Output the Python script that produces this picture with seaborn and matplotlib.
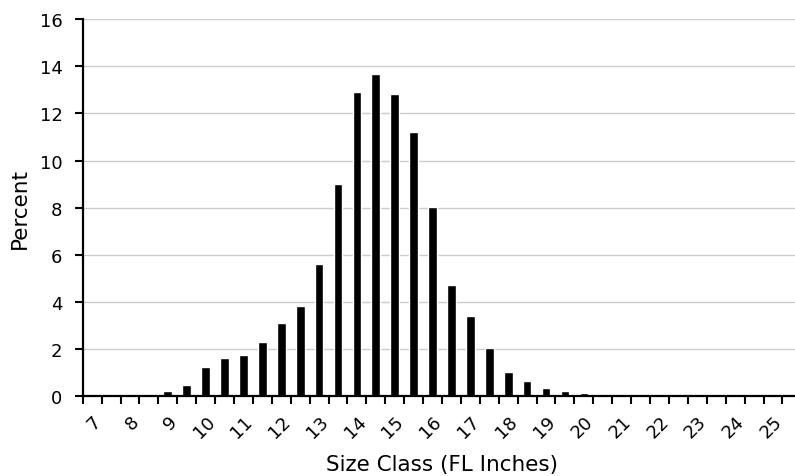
import numpy as np
import pandas as pd
import seaborn as sns
import matplotlib.pyplot as plt

# size classes (FL inches), half-inch bins
size_class = [7, 7.5, 8, 8.5, 9, 9.5, 10, 10.5, 11, 11.5, 12, 12.5, 13, 13.5,
              14, 14.5, 15, 15.5, 16, 16.5, 17, 17.5, 18, 18.5, 19, 19.5,
              20, 20.5, 21, 21.5, 22, 22.5, 23, 23.5, 24, 24.5, 25, 25.5]
percent = [0, 0, 0, 0, 0.22, 0.5, 1.24, 1.64, 1.74, 2.31, 3.13, 3.83, 5.6, 9.0,
           12.9, 13.68, 12.82, 11.22, 8.02, 4.72, 3.4, 2.03, 1.02, 0.64, 0.34, 0.24,
           0.14, 0, 0, 0, 0, 0, 0, 0, 0, 0, 0, 0]
tick_labels = [str(int(s)) if s == int(s) else "" for s in size_class]

df = pd.DataFrame({"size": [str(s) for s in size_class], "pct": percent})

sns.set_theme(style="white")
plt.rcParams['font.family'] = ['DejaVu Sans']
plt.rcParams['text.color'] = 'black'
plt.rcParams['axes.labelcolor'] = 'black'
plt.rcParams['xtick.color'] = 'black'
plt.rcParams['ytick.color'] = 'black'

fig = plt.figure(figsize=(7.95, 4.77), dpi=100)
ax = fig.add_axes([0.104, 0.167, 0.904, 0.791])

sns.barplot(data=df, x="size", y="pct", color="black", width=0.46,
            saturation=1, ax=ax, zorder=3)

n = len(size_class)
ax.set_xlim(-0.5, n - 0.5)
ax.set_ylim(0, 16)
ax.set_yticks(np.arange(0, 17, 2))
ax.yaxis.grid(True, color="#cccccc", linewidth=1, zorder=0)

# ticks sit on the category boundaries, labels every other class
ax.set_xticks(np.arange(n + 1) - 0.5, minor=True)
ax.set_xticks(np.arange(n))
ax.set_xticklabels(tick_labels, rotation=45, ha="right", va="top",
                   rotation_mode="anchor", fontsize=13)
ax.tick_params(axis="x", which="major", length=0, pad=11)
ax.tick_params(axis="x", which="minor", length=6, width=1.5, color="black",
               direction="out", bottom=True)
ax.tick_params(axis="y", length=6, width=1.5, color="black", direction="out",
               left=True, labelsize=13, pad=8.5)

for s in ["top", "right"]:
    ax.spines[s].set_visible(False)
for s in ["left", "bottom"]:
    ax.spines[s].set_color("black")
    ax.spines[s].set_linewidth(1.6)
    ax.spines[s].set_zorder(4)

ax.set_xlabel("Size Class (FL Inches)", fontsize=15.5, labelpad=10)
ax.set_ylabel("Percent", fontsize=15.5, labelpad=7)

fig.savefig("out.png", dpi=100)
